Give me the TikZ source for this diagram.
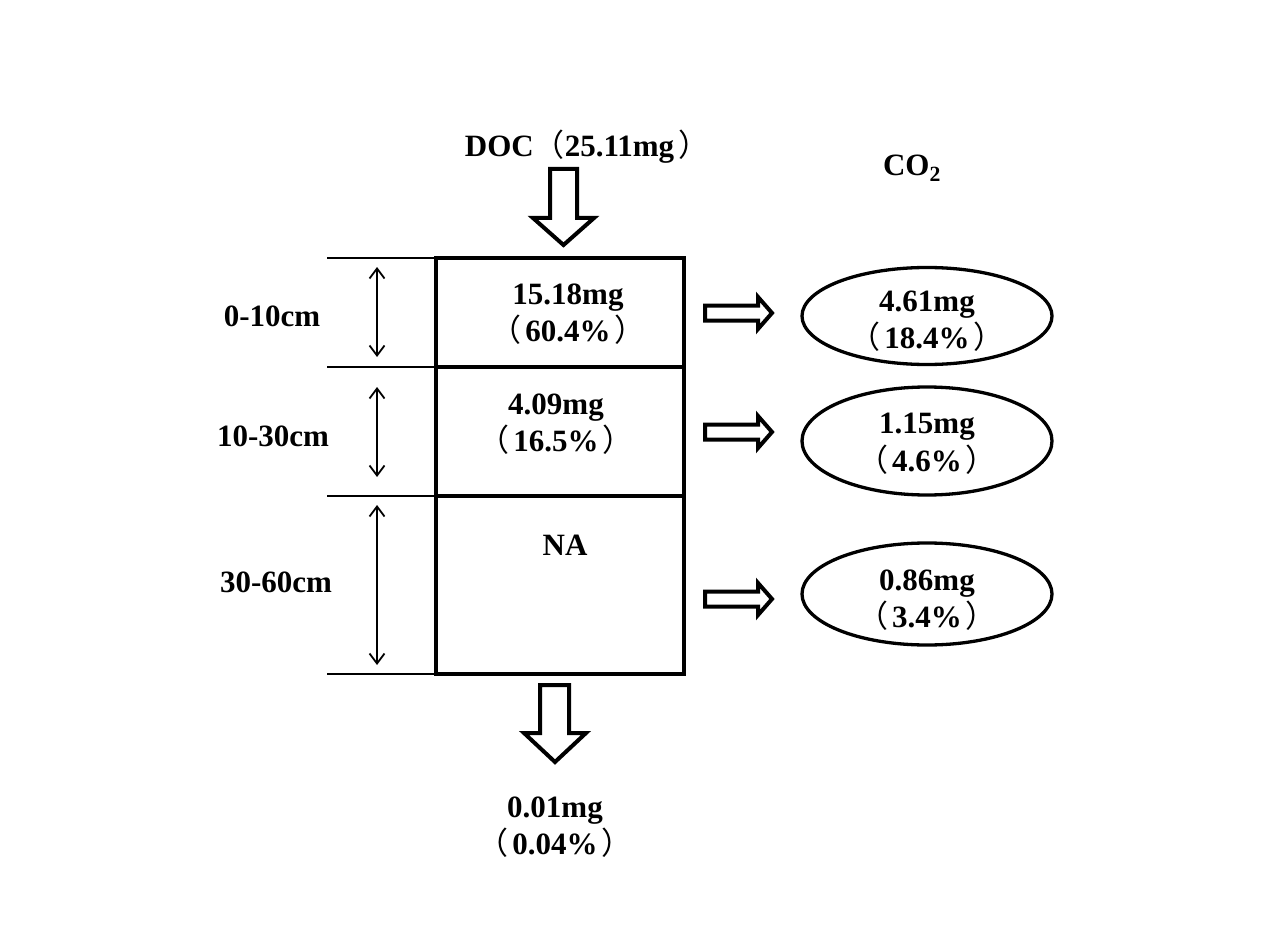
\documentclass[tikz,border=0pt]{standalone}
\usepackage{fontspec}
\setmainfont{Liberation Serif}
\newfontfamily\cjk{Noto Sans CJK SC}
\usetikzlibrary{arrows.meta,shapes.geometric}
\newcommand{\lpar}{{\cjk\mdseries （}\kern4pt}
\newcommand{\rpar}{\kern4pt{\cjk\mdseries ）}}
\begin{document}
\begin{tikzpicture}[x=1pt,y=-1pt,
  txt/.style={font=\fontsize{31}{37.5}\selectfont\bfseries, align=center, inner sep=0pt},
  layer/.style={draw, line width=4.5pt, minimum width=248pt, inner sep=0pt, outer sep=0pt},
  co2/.style={draw, ellipse, line width=3.3pt, minimum width=250pt, inner sep=0pt},
  blockarrow/.style={draw, line width=4pt, line join=miter, fill=white},
  tick/.style={line width=1.8pt},
  depth/.style={line width=1.8pt, {Straight Barb[length=10pt,width=15pt,line width=1.8pt]}-{Straight Barb[length=10pt,width=15pt,line width=1.8pt]}}]
\useasboundingbox (0,0) rectangle (1269,952);

% soil layers
\node[layer, minimum height=109pt] (l1) at (560,312.5) {};
\node[layer, minimum height=129pt] (l2) at (560,431.5) {};
\node[layer, minimum height=178pt] (l3) at (560,585) {};

\node[txt] (t1) at (568,314) {15.18mg\\\lpar60.4\%\rpar};
\node[txt] (t2) at (556,424) {4.09mg\\\lpar16.5\%\rpar};
\node[txt] (t3) at (565,545) {NA};

% depth ticks
\coordinate (k0) at (327,258);
\coordinate (k1) at (327,367);
\coordinate (k2) at (327,496);
\coordinate (k3) at (327,674);
\draw[tick] (k0) -- (l1.north west);
\draw[tick] (k1) -- (l1.south west);
\draw[tick] (k2) -- (l2.south west);
\draw[tick] (k3) -- (l3.south west);

\coordinate (d1a) at (377,267); \coordinate (d1b) at (377,357);
\coordinate (d2a) at (377,387); \coordinate (d2b) at (377,477);
\coordinate (d3a) at (377,505); \coordinate (d3b) at (377,665);
\draw[depth] (d1a) -- (d1b);
\draw[depth] (d2a) -- (d2b);
\draw[depth] (d3a) -- (d3b);

\node[txt] (z1) at (272,316) {0-10cm};
\node[txt] (z2) at (273,436) {10-30cm};
\node[txt] (z3) at (276,582) {30-60cm};

% input
\node[txt] (doc) at (587,147) {DOC{\cjk\mdseries （}25.11mg\rpar};
\draw[blockarrow] (550,169) -- (577,169) -- (577,218) -- (594,218) -- (563.5,245) -- (533,218) -- (550,218) -- cycle;

% leaching
\draw[blockarrow] (540,685) -- (569,685) -- (569,733) -- (586,733) -- (555,762) -- (524,733) -- (540,733) -- cycle;
\node[txt] (leach) at (555,827) {0.01mg\\\lpar0.04\%\rpar};

% CO2
\node[txt] (co2lab) at (912,168) {CO\textsubscript{2}};
\node[co2, minimum height=97pt] (e1) at (927,316) {};
\node[co2, minimum height=108pt] (e2) at (927,441) {};
\node[co2, minimum height=102pt] (e3) at (927,594) {};
\node[txt] (et1) at (927,321) {4.61mg\\\lpar18.4\%\rpar};
\node[txt] (et2) at (927,444) {1.15mg\\\lpar4.6\%\rpar};
\node[txt] (et3) at (927,600) {0.86mg\\\lpar3.4\%\rpar};

\foreach \yy in {313,432,599}{
  \draw[blockarrow] (705,\yy-7.5) -- (758,\yy-7.5) -- (758,\yy-16) -- (772,\yy) -- (758,\yy+16) -- (758,\yy+7.5) -- (705,\yy+7.5) -- cycle;
}
\end{tikzpicture}
\end{document}
